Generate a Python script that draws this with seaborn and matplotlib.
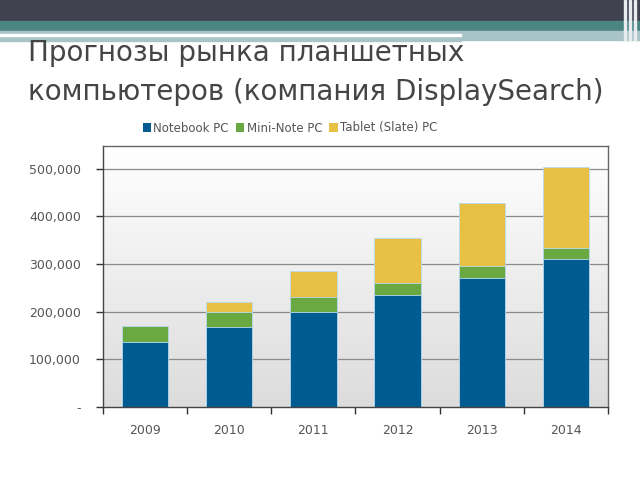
import numpy as np
import pandas as pd
import matplotlib
matplotlib.use("Agg")
import matplotlib.pyplot as plt
import seaborn as sns
from matplotlib.patches import Rectangle

years = ["2009", "2010", "2011", "2012", "2013", "2014"]
notebook = [137000, 168000, 200000, 235000, 271000, 310000]
mini_note = [34000, 32000, 30000, 26000, 25000, 23000]
tablet = [0, 21000, 56000, 94000, 133000, 171000]
series_names = ["Notebook PC", "Mini-Note PC", "Tablet (Slate) PC"]
ytick_vals = [0, 100000, 200000, 300000, 400000, 500000]
ytick_labels = ["-", "100,000", "200,000", "300,000", "400,000", "500,000"]
title_lines = ["Прогнозы рынка планшетных", "компьютеров (компания DisplaySearch)"]

colors = ["#005b91", "#6aa842", "#e8c044"]

sns.set_theme(style="white")
plt.rcParams["font.family"] = ["DejaVu Sans"]

fig = plt.figure(figsize=(6.4, 4.8), dpi=100)

# slide header
fig.patches.append(Rectangle((0, 1 - 21/480), 1, 21/480, transform=fig.transFigure,
                             color="#40424f", zorder=0))
fig.patches.append(Rectangle((0, 1 - 31/480), 1, 10/480, transform=fig.transFigure,
                             color="#4b8583", zorder=0))
fig.patches.append(Rectangle((0, 1 - 41/480), 0.72, 10/480, transform=fig.transFigure,
                             color="#a9c4c6", zorder=0))
fig.patches.append(Rectangle((0, 1 - 36/480), 0.72, 2/480, transform=fig.transFigure,
                             color="#ffffff", zorder=1))
fig.patches.append(Rectangle((0.72, 1 - 40/480), 0.28, 9/480, transform=fig.transFigure,
                             color="#a9c4c6", zorder=0))
for xv in [624, 629, 634]:
    fig.patches.append(Rectangle((xv/640, 1 - 40/480), 1.5/640, 40/480,
                                 transform=fig.transFigure, color="#e8ecef", zorder=2))

# title
fig.text(28/640, 1 - 53/480, title_lines[0], fontsize=20, color="#454545",
         ha="left", va="center", family=["DejaVu Sans"])
fig.text(28/640, 1 - 92/480, title_lines[1], fontsize=20, color="#454545",
         ha="left", va="center", family=["DejaVu Sans"])

ax = fig.add_axes([103/640, (480-407)/480, 505/640, 261/480])

df = pd.DataFrame({"year": years,
                   "nb": notebook,
                   "nm": np.array(notebook) + np.array(mini_note),
                   "all": np.array(notebook) + np.array(mini_note) + np.array(tablet)})

ymax = 548000
# gradient background
grad = np.linspace(0, 1, 256).reshape(-1, 1)
ax.imshow(grad, extent=(-0.5, 5.5, 0, ymax), aspect="auto", origin="lower",
          cmap=matplotlib.colors.LinearSegmentedColormap.from_list("g", ["#dcdcdc", "#ffffff"]),
          zorder=0)
for v in ytick_vals[1:]:
    ax.axhline(v, color="#8a8a8a", lw=0.9, zorder=1)

for col, c, lab in zip(["all", "nm", "nb"], colors[::-1], series_names[::-1]):
    sns.barplot(data=df, x="year", y=col, color=c, width=0.55, ax=ax, saturation=1,
                edgecolor="#b8daf0", linewidth=0.6, zorder=2, label=lab)

ax.set_xlim(-0.5, 5.5)
ax.set_ylim(0, ymax)
ax.set_xlabel("")
ax.set_ylabel("")
ax.set_yticks(ytick_vals)
ax.set_yticklabels(ytick_labels)
ax.set_xticks(np.arange(-0.5, 6, 1))
ax.set_xticklabels([""] * 7)
ax.set_xticks(np.arange(6), minor=True)
ax.set_xticklabels(years, minor=True)
ax.tick_params(axis="x", which="major", direction="out", length=5, width=1, color="#333333", bottom=True)
ax.tick_params(axis="x", which="minor", length=0, pad=12, labelsize=9, labelcolor="#555555")
ax.tick_params(axis="y", direction="out", length=5, width=1, color="#333333", left=True,
               labelsize=9, labelcolor="#555555", pad=11)
for s in ax.spines.values():
    s.set_color("#444444")
    s.set_linewidth(1.0)
    s.set_visible(True)
ax.spines["top"].set_color("#666666")
ax.spines["right"].set_color("#666666")

handles, labels = ax.get_legend_handles_labels()
if ax.get_legend() is not None:
    ax.get_legend().remove()
order = [series_names.index(l) for l in labels]
hl = sorted(zip(order, handles, labels))
leg = fig.legend([h for _, h, _ in hl], [l for _, _, l in hl], loc="center",
                 bbox_to_anchor=(290/640, 1 - 128/480), ncol=3, frameon=False,
                 fontsize=8.5, handlelength=0.7, handleheight=0.7, handletextpad=0.2,
                 columnspacing=0.6, labelcolor="#555555")
for h in leg.legend_handles:
    h.set_edgecolor("none")

fig.savefig("out.png", dpi=100)
